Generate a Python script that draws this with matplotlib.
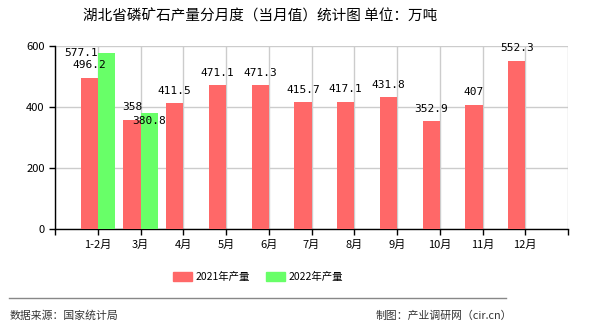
import matplotlib
matplotlib.use("Agg")
import matplotlib.pyplot as plt
import numpy as np
from matplotlib.patches import Patch

plt.rcParams["font.family"] = ["Noto Sans CJK SC", "DejaVu Sans"]

months = ["1-2月", "3月", "4月", "5月", "6月", "7月", "8月", "9月", "10月", "11月", "12月"]
prod_2021 = [496.2, 358, 411.5, 471.1, 471.3, 415.7, 417.1, 431.8, 352.9, 407, 552.3]
prod_2022 = [577.1, 380.8]
labels_2021 = ["496.2", "358", "411.5", "471.1", "471.3", "415.7", "417.1", "431.8", "352.9", "407", "552.3"]
labels_2022 = ["577.1", "380.8"]

red = "#ff6868"
green = "#68ff68"

fig = plt.figure(figsize=(5.9, 3.3), dpi=100)
ax = fig.add_axes([55 / 590, 1 - 229 / 330, (568 - 55) / 590, (229 - 46) / 330])

x = np.arange(len(months))
w = 0.4
ax.bar(x - w / 2, prod_2021, width=w, color=red, zorder=3)
x2 = np.arange(len(prod_2022))
ax.bar(x2 + w / 2, prod_2022, width=w, color=green, zorder=3)

mono = ["DejaVu Sans Mono"]
for xi, v, s in zip(x, prod_2021, labels_2021):
    ax.annotate(s, (xi - w / 2, v), xytext=(0, 9), textcoords="offset points",
                ha="center", va="center", fontsize=8, family=mono, zorder=4)
# 2022 labels sit where the original chart pushed them to avoid overlap
offs_2022 = [(-18, 0), (0, -6)]
for xi, v, s, (dx, dy) in zip(x2, prod_2022, labels_2022, offs_2022):
    ax.annotate(s, (xi + w / 2, v), xytext=(dx, dy), textcoords="offset points",
                ha="center", va="center", fontsize=8, family=mono, zorder=4)

ax.set_xlim(-1, len(months))
ax.set_ylim(0, 600)
ax.set_yticks([0, 200, 400, 600])
ax.set_xticks(np.arange(-1, len(months) + 1))
ax.set_xticklabels([""] + months + [""])
ax.tick_params(axis="both", labelsize=8, length=4, width=1, color="black")
ax.grid(True, color="#cccccc", linewidth=1, zorder=0)
for side in ["top", "right"]:
    ax.spines[side].set_visible(False)
for side in ["left", "bottom"]:
    ax.spines[side].set_color("black")
    ax.spines[side].set_linewidth(1)

fig.text(260 / 590, 1 - 16 / 330, "湖北省磷矿石产量分月度（当月值）统计图 单位：万吨",
         ha="center", va="center", fontsize=10.5)

handles = [Patch(color=red, label="2021年产量"), Patch(color=green, label="2022年产量")]
fig.legend(handles=handles, loc="center", bbox_to_anchor=(258 / 590, 1 - 277 / 330),
           ncol=2, frameon=False, fontsize=7.5, handlelength=1.8, handleheight=0.9,
           columnspacing=1.5, handletextpad=0.4)

fig.add_artist(plt.Line2D([9 / 590, 506 / 590], [1 - 298 / 330, 1 - 298 / 330],
                          color="#888888", linewidth=1))
fig.text(10 / 590, 1 - 316 / 330, "数据来源：国家统计局", ha="left", va="center",
         fontsize=7.8, color="#333333")
fig.text(512 / 590, 1 - 316 / 330, "制图：产业调研网（cir.cn）", ha="right", va="center",
         fontsize=7.8, color="#333333")

fig.savefig("out.png", dpi=100)
